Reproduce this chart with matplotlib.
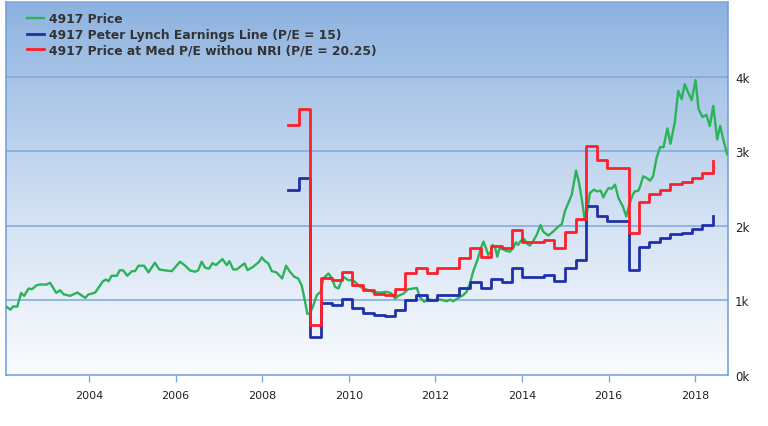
import numpy as np
import matplotlib.pyplot as plt
from matplotlib.colors import LinearSegmentedColormap
from matplotlib.ticker import FuncFormatter

# 4917 股价 (按月，数值从图上读取)
price_date = [2002.10, 2002.18, 2002.25, 2002.34, 2002.43, 2002.50, 2002.60, 2002.68, 2002.79, 2002.87,
              2003.02, 2003.10, 2003.24, 2003.33, 2003.41, 2003.56, 2003.73, 2003.91, 2003.98, 2004.14,
              2004.32, 2004.39, 2004.45, 2004.52, 2004.64, 2004.71, 2004.79, 2004.88, 2004.99, 2005.06,
              2005.14, 2005.27, 2005.37, 2005.52, 2005.62, 2005.76, 2005.91, 2006.10, 2006.22, 2006.33,
              2006.45, 2006.52, 2006.60, 2006.68, 2006.77, 2006.85, 2006.93, 2007.08, 2007.18, 2007.24,
              2007.33, 2007.41, 2007.59, 2007.66, 2007.79, 2007.93, 2007.99, 2008.06, 2008.14, 2008.22,
              2008.33, 2008.46, 2008.55, 2008.64, 2008.74, 2008.83, 2008.91, 2008.99, 2009.04, 2009.10,
              2009.18, 2009.26, 2009.35, 2009.41, 2009.53, 2009.61, 2009.68, 2009.76, 2009.87, 2009.99,
              2010.10, 2010.26, 2010.45, 2010.57, 2010.72, 2010.88, 2010.99, 2011.07, 2011.14, 2011.26,
              2011.37, 2011.49, 2011.57, 2011.64, 2011.74, 2011.84, 2011.95, 2012.07, 2012.18, 2012.26,
              2012.34, 2012.41, 2012.53, 2012.64, 2012.72, 2012.80, 2012.87, 2012.97, 2013.05, 2013.11,
              2013.17, 2013.22, 2013.28, 2013.32, 2013.38, 2013.43, 2013.48, 2013.55, 2013.65, 2013.72,
              2013.80, 2013.86, 2013.91, 2013.97, 2014.05, 2014.11, 2014.18, 2014.26, 2014.34, 2014.43,
              2014.49, 2014.61, 2014.72, 2014.84, 2014.92, 2014.99, 2015.07, 2015.15, 2015.25, 2015.32,
              2015.39, 2015.45, 2015.51, 2015.57, 2015.66, 2015.74, 2015.82, 2015.88, 2015.94, 2016.00,
              2016.07, 2016.15, 2016.23, 2016.33, 2016.41, 2016.49, 2016.56, 2016.61, 2016.69, 2016.73,
              2016.80, 2016.88, 2016.96, 2017.03, 2017.11, 2017.19, 2017.27, 2017.36, 2017.43, 2017.53,
              2017.61, 2017.69, 2017.76, 2017.84, 2017.92, 2018.01, 2018.08, 2018.17, 2018.26, 2018.34,
              2018.42, 2018.51, 2018.58, 2018.66, 2018.74]
price = [912, 876, 920, 916, 1101, 1061, 1159, 1150, 1204, 1213,
         1213, 1236, 1101, 1136, 1082, 1061, 1105, 1034, 1078, 1105,
         1257, 1280, 1257, 1330, 1330, 1405, 1402, 1330, 1392, 1392,
         1465, 1465, 1375, 1505, 1415, 1402, 1392, 1519, 1465, 1402,
         1384, 1402, 1519, 1438, 1425, 1500, 1473, 1554, 1473, 1527,
         1415, 1415, 1496, 1405, 1451, 1519, 1577, 1527, 1496, 1392,
         1375, 1294, 1465, 1384, 1317, 1294, 1204, 980, 822, 822,
         934, 1069, 1115, 1294, 1361, 1294, 1182, 1159, 1317, 1271,
         1271, 1182, 1136, 1115, 1105, 1115, 1092, 1024, 1061, 1090,
         1150, 1159, 1168, 1047, 980, 1015, 1001, 1015, 1001, 988,
         1011, 988, 1034, 1069, 1115, 1226, 1384, 1540, 1698, 1788,
         1698, 1608, 1653, 1743, 1707, 1586, 1698, 1689, 1662, 1653,
         1707, 1779, 1743, 1797, 1824, 1765, 1734, 1797, 1877, 2012,
         1923, 1869, 1923, 1990, 2022, 2192, 2305, 2417, 2740, 2574,
         2327, 2080, 2214, 2439, 2484, 2462, 2471, 2381, 2453, 2507,
         2497, 2552, 2372, 2260, 2125, 2305, 2417, 2462, 2471, 2529,
         2664, 2641, 2605, 2664, 2911, 3055, 3055, 3306, 3100, 3383,
         3810, 3698, 3899, 3787, 3684, 3953, 3562, 3459, 3486, 3338,
         3608, 3158, 3338, 3135, 2960]

# 季度阶梯线：起始日期
step_date = [2008.60, 2008.85, 2009.10, 2009.35, 2009.60, 2009.85, 2010.08, 2010.33, 2010.58, 2010.83,
             2011.07, 2011.30, 2011.55, 2011.80, 2012.04, 2012.29, 2012.55, 2012.80, 2013.05, 2013.28,
             2013.53, 2013.77, 2014.01, 2014.26, 2014.50, 2014.74, 2014.99, 2015.24, 2015.48, 2015.74,
             2015.97, 2016.22, 2016.48, 2016.71, 2016.94, 2017.20, 2017.43, 2017.69, 2017.93, 2018.17,
             2018.42]
# Peter Lynch Earnings Line (P/E = 15)
lynch = [2484, 2641, 508, 966, 943, 1024, 899, 836, 809, 791,
         867, 1010, 1069, 1001, 1069, 1069, 1168, 1240, 1168, 1285,
         1240, 1438, 1317, 1317, 1343, 1257, 1429, 1540, 2272, 2125,
         2058, 2058, 1405, 1712, 1788, 1833, 1887, 1909, 1954, 2005,
         2125]
# Price at Med P/E withou NRI (P/E = 20.25)
med_pe = [3352, 3562, 674, 1303, 1271, 1375, 1213, 1136, 1092, 1069,
          1159, 1365, 1440, 1361, 1438, 1438, 1572, 1698, 1586, 1734,
          1698, 1941, 1779, 1779, 1815, 1698, 1923, 2093, 3073, 2880,
          2776, 2776, 1900, 2318, 2426, 2484, 2561, 2583, 2641, 2709,
          2870]

y_ticks = [0, 1000, 2000, 3000, 4000]
x_ticks = [2004, 2006, 2008, 2010, 2012, 2014, 2016, 2018]

fig = plt.figure(figsize=(7.68, 4.27), dpi=100)
ax = fig.add_axes([6 / 768, 1 - 376 / 427, 722 / 768, 373 / 427])

# 渐变背景
grad = LinearSegmentedColormap.from_list('bg', ['#fafcfe', '#cbdcf1', '#8db2e0'])
ax.imshow(np.linspace(0, 1, 256).reshape(-1, 1), cmap=grad, origin='lower',
          extent=[0, 1, 0, 1], transform=ax.transAxes, aspect='auto', zorder=0)

for v in y_ticks[1:]:
    ax.axhline(v, color='#7da6dc', lw=1.1, zorder=1)

ax.plot(price_date, price, color='#2bb35a', lw=1.7, label='4917 Price', zorder=3)
ax.plot(step_date, lynch, color='#1f30a8', lw=2.0, drawstyle='steps-post',
        label='4917 Peter Lynch Earnings Line (P/E = 15)', zorder=4)
ax.plot(step_date, med_pe, color='#ff1f2a', lw=2.0, drawstyle='steps-post',
        label='4917 Price at Med P/E withou NRI (P/E = 20.25)', zorder=5)

ax.set_xlim(2002.08, 2018.76)
ax.set_ylim(0, 5000)

ax.set_xticks(x_ticks)
ax.set_xticklabels([str(t) for t in x_ticks], fontsize=8, color='#222222')
ax.tick_params(axis='x', length=5, width=1, color='#7da6dc', pad=6)

ax.yaxis.tick_right()
ax.set_yticks(y_ticks)
ax.yaxis.set_major_formatter(FuncFormatter(lambda v, p: '%dk' % (v / 1000)))
ax.tick_params(axis='y', length=0, pad=5, labelsize=8.5, labelcolor='#222222')

for side in ['left', 'right', 'bottom', 'top']:
    ax.spines[side].set_color('#6d9be0')
    ax.spines[side].set_linewidth(1.1)
ax.spines['top'].set_color('#80a8de')

leg = ax.legend(loc='upper left', bbox_to_anchor=(0.0165, 0.997), frameon=False,
                borderaxespad=0.35, handlelength=1.35, handletextpad=0.45,
                labelspacing=0.21, prop={'weight': 'bold', 'size': 8.9})
for t in leg.get_texts():
    t.set_color('#333333')

plt.savefig('out.png', dpi=100)
